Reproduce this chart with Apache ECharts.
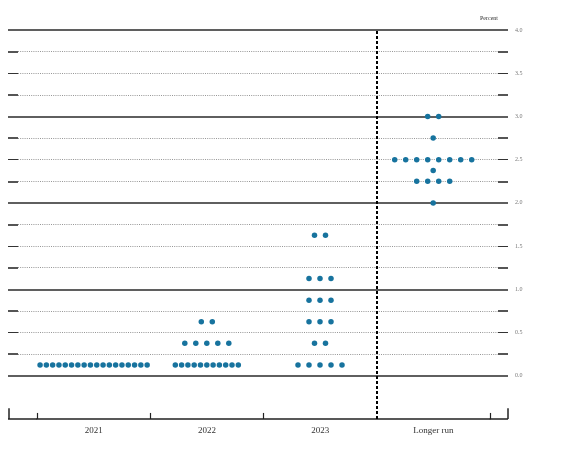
<!DOCTYPE html>
<html>
<head>
<meta charset="utf-8">
<script src="https://cdn.jsdelivr.net/npm/echarts@6/dist/echarts.min.js"></script>
<style>html,body{margin:0;padding:0;background:#fff}#c{width:579px;height:465px}</style>
</head>
<body>
<div id="c"></div>
<script>
// ---- Data ----
const categories = ['2021', '2022', '2023', 'Longer run'];
const levels2021 = [0.125];
const counts2021 = [18];
const levels2022 = [0.125, 0.375, 0.625];
const counts2022 = [11, 5, 2];
const levels2023 = [0.125, 0.375, 0.625, 0.875, 1.125, 1.625];
const counts2023 = [5, 2, 3, 3, 3, 2];
const levelsLR = [2.0, 2.25, 2.375, 2.5, 2.75, 3.0];
const countsLR = [1, 4, 1, 8, 1, 2];
const yTickLabels = ['0.0', '0.5', '1.0', '1.5', '2.0', '2.5', '3.0', '3.5', '4.0'];
const gridValues = [0, 0.25, 0.5, 0.75, 1, 1.25, 1.5, 1.75, 2, 2.25, 2.5, 2.75, 3, 3.25, 3.5, 3.75, 4];

// ---- Layout ----
const unitPx = 113.2;
const xMin = -29 / unitPx;
const xMax = (508 - 37) / unitPx;
const denseStep = 6.3 / unitPx;
const wideStep = 11 / unitPx;
const dotColor = '#17739e';
const serif = '"Liberation Serif", "DejaVu Serif", serif';

const groups = [
  [levels2021, counts2021],
  [levels2022, counts2022],
  [levels2023, counts2023],
  [levelsLR, countsLR]
];
const dots = [];
groups.forEach(([lv, ct], c) => {
  lv.forEach((y, k) => {
    const n = ct[k];
    const step = n > 8 ? denseStep : wideStep;
    for (let j = 0; j < n; j++) {
      dots.push([c + 0.5 + (j - (n - 1) / 2) * step, y]);
    }
  });
});

const lines = [];
function seg(x1, y1, x2, y2, style) {
  lines.push([{ coord: [x1, y1], lineStyle: style }, { coord: [x2, y2] }]);
}
const dashLen = 10 / unitPx;
gridValues.forEach(v => {
  if (Number.isInteger(v)) {
    seg(xMin, v, xMax, v, { color: '#2a2a2a', width: 1.6, type: 'solid' });
  } else {
    seg(xMin + dashLen, v, xMax - dashLen, v, { color: '#8a8a8a', width: 0.9, type: [1, 1.2] });
    const half = Math.abs(v * 2 - Math.round(v * 2)) < 1e-9;
    const st = half ? { color: '#333', width: 1, type: 'solid' } : { color: '#555', width: 2, type: 'solid' };
    seg(xMin, v, xMin + dashLen, v, st);
    seg(xMax - dashLen, v, xMax, v, st);
  }
});
// bottom axis extensions and ticks
const axStyle = { color: '#222', width: 1.5, type: 'solid' };
seg(xMin, -0.5, 0, -0.5, axStyle);
seg(4, -0.5, xMax, -0.5, axStyle);
seg(xMin + 0.006, -0.5, xMin + 0.006, -0.375, axStyle);
seg(xMax - 0.006, -0.5, xMax - 0.006, -0.375, axStyle);
[0, 1, 2, 4].forEach(t => seg(t, -0.5, t, -0.43, { color: '#222', width: 1.2, type: 'solid' }));
// vertical dashed separator
seg(3, -0.5, 3, 4, { color: '#000', width: 2, type: [3, 2] });

const chart = echarts.init(document.getElementById('c'), null, { renderer: 'canvas' });
chart.setOption({
  animation: false,
  backgroundColor: '#fff',
  title: {
    text: 'Percent', right: 76, top: 10,
    textStyle: { fontSize: 6, fontWeight: 'normal', color: '#333', fontFamily: serif }
  },
  grid: [
    { left: 8, right: 71, top: 30, bottom: 46 },
    { left: 37, right: 89, top: 418, height: 1 }
  ],
  xAxis: [
    { type: 'value', gridIndex: 0, min: xMin, max: xMax, show: false },
    {
      type: 'category', gridIndex: 1, data: categories, boundaryGap: true,
      axisLine: { lineStyle: { color: '#222', width: 1.5 } },
      axisTick: { show: false },
      axisLabel: { margin: 7, fontSize: 9, color: '#333', fontFamily: serif }
    }
  ],
  yAxis: [
    {
      type: 'value', gridIndex: 0, min: -0.5, max: 4, interval: 0.5, position: 'right',
      axisLine: { show: false }, axisTick: { show: false }, splitLine: { show: false },
      axisLabel: {
        margin: 7, fontSize: 6, color: '#777', fontFamily: serif,
        formatter: v => { const i = Math.round(v / 0.5); return v < 0 ? '' : (yTickLabels[i] || ''); }
      }
    },
    { type: 'value', gridIndex: 1, show: false }
  ],
  series: [
    {
      type: 'scatter', xAxisIndex: 0, yAxisIndex: 0, data: [], silent: true,
      markLine: { silent: true, symbol: ['none', 'none'], label: { show: false }, data: lines, animation: false }
    },
    {
      type: 'scatter', xAxisIndex: 0, yAxisIndex: 0, data: dots,
      symbol: 'circle', symbolSize: 5.5, itemStyle: { color: dotColor, opacity: 1 }, z: 5
    }
  ]
});
</script>
</body>
</html>
